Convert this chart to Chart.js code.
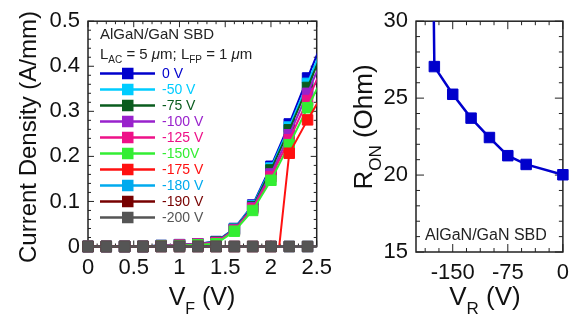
<!DOCTYPE html>
<html>
<head>
<meta charset="utf-8">
<script src="https://cdn.jsdelivr.net/npm/chart.js@4.4.1/dist/chart.umd.min.js"></script>
<style>
  html, body { margin: 0; padding: 0; background: #fff; }
  #wrap { position: relative; width: 577px; height: 322px; overflow: hidden; }
  canvas { position: absolute; top: 0; }
  #ivChart { left: 0; }
  #ronChart { left: 340px; }
</style>
</head>
<body>
<div id="wrap">
  <canvas id="ivChart" width="340" height="322"></canvas>
  <canvas id="ronChart" width="237" height="322"></canvas>
</div>
<script>
// forward sweep V_F (V); last point lies past the axis and only shows as the rising line
const vF = [0, 0.2, 0.4, 0.6, 0.8, 1.0, 1.2, 1.4, 1.6, 1.8, 2.0, 2.2, 2.4, 2.6];
// -175 V turns on late, so it has an extra knee point
const vF175 = [0, 0.2, 0.4, 0.6, 0.8, 1.0, 1.2, 1.4, 1.6, 1.8, 2.0, 2.09, 2.2, 2.4, 2.6];

// current density (A/mm) after each reverse stress
const j0    = [0, 0, 0, 0, 0.002, 0.004, 0.006, 0.011, 0.040, 0.092, 0.178, 0.272, 0.374, 0.474];
const j50   = [0, 0, 0, 0, 0.002, 0.004, 0.006, 0.010, 0.039, 0.090, 0.174, 0.265, 0.362, 0.462];
const j75   = [0, 0, 0, 0, 0.002, 0.004, 0.006, 0.010, 0.038, 0.088, 0.170, 0.259, 0.353, 0.450];
const j100  = [0, 0, 0, 0, 0.002, 0.004, 0.006, 0.009, 0.037, 0.086, 0.161, 0.248, 0.340, 0.435];
const j125  = [0, 0, 0, 0, 0.001, 0.003, 0.005, 0.008, 0.036, 0.084, 0.155, 0.237, 0.324, 0.415];
const j150  = [0, 0, 0, 0, 0.001, 0.002, 0.004, 0.006, 0.034, 0.080, 0.147, 0.226, 0.308, 0.390];
const j175  = [0, 0, 0, 0, 0, 0, 0, 0, 0, 0, 0, 0, 0.207, 0.281, 0.350];
const j180  = [0, 0, 0, 0, 0, 0, 0, 0, 0, 0, 0, 0, 0, 0];
const j190  = [0, 0, 0, 0, 0, 0, 0, 0, 0, 0, 0, 0, 0, 0];
const j200  = [0, 0, 0, 0, 0, 0, 0, 0, 0, 0, 0, 0, 0, 0];

const stressLabels = ["0 V", "-50 V", "-75 V", "-100 V", "-125 V", "-150V", "-175 V", "-180 V", "-190 V", "-200 V"];
const stressX = [vF, vF, vF, vF, vF, vF, vF175, vF, vF, vF];
const stressY = [j0, j50, j75, j100, j125, j150, j175, j180, j190, j200];
const stressColors = ["#0000cc", "#00ccff", "#0a5c1e", "#9922cc", "#ee1188", "#33ee33", "#ff1111", "#00aaee", "#770000", "#555555"];

// on-resistance vs reverse stress; -180 V point is off the top (device no longer conducts)
const vR  = [-180, -175, -150, -125, -100, -75, -50, 0];
const rOn = [48, 27.05, 25.25, 23.7, 22.44, 21.26, 20.69, 20.02];

const ivXTicks = [0, 0.5, 1, 1.5, 2, 2.5];
const ivYTicks = [0, 0.1, 0.2, 0.3, 0.4, 0.5];
const ronXTicks = [-150, -75, 0];
const ronYTicks = [15, 20, 25, 30];

const FONT = "'Liberation Sans', Arial, Helvetica, sans-serif";
Chart.defaults.font.family = FONT;
Chart.defaults.color = "#111";
Chart.defaults.animation = false;

// draws a run of text pieces (normal / subscript / italic) starting at x
function richText(ctx, parts, x, y, align) {
    const widths = parts.map((p) => {
        ctx.font = (p.italic ? "italic " : "") + p.size + "px " + FONT;
        return ctx.measureText(p.t).width;
    });
    const total = widths.reduce((a, b) => a + b, 0);
    let cx = align === "center" ? x - total / 2 : x;
    ctx.textAlign = "left";
    ctx.textBaseline = "alphabetic";
    parts.forEach((p, i) => {
        ctx.font = (p.italic ? "italic " : "") + p.size + "px " + FONT;
        ctx.fillText(p.t, cx, y + (p.dy || 0));
        cx += widths[i];
    });
}

// closed frame with inward ticks on all four sides
const frameTicks = {
    id: "frameTicks",
    beforeDatasetsDraw(chart, args, o) {
        const { ctx, chartArea: a, scales } = chart;
        ctx.save();
        ctx.strokeStyle = "#222";
        ctx.lineWidth = 1;
        ctx.beginPath();
        const run = (scale, anchor, minor, major, cb) => {
            const k0 = Math.ceil((scale.min - anchor) / minor - 1e-6);
            const k1 = Math.floor((scale.max - anchor) / minor + 1e-6);
            for (let k = k0; k <= k1; k++) {
                const v = anchor + k * minor;
                const r = (v - anchor) / major;
                const isMajor = Math.abs(r - Math.round(r)) < 1e-6;
                cb(scale.getPixelForValue(v), isMajor ? o.major : o.minor);
            }
        };
        run(scales.x, o.xAnchor, o.xMinor, o.xMajor, (px, len) => {
            ctx.moveTo(px, a.bottom); ctx.lineTo(px, a.bottom - len);
            ctx.moveTo(px, a.top); ctx.lineTo(px, a.top + len);
        });
        run(scales.y, o.yAnchor, o.yMinor, o.yMajor, (py, len) => {
            ctx.moveTo(a.left, py); ctx.lineTo(a.left + len, py);
            ctx.moveTo(a.right, py); ctx.lineTo(a.right - len, py);
        });
        ctx.stroke();
        ctx.lineWidth = 1.5;
        ctx.strokeRect(a.left, a.top, a.right - a.left, a.bottom - a.top);
        ctx.restore();
    },
};

function axisOpts(min, max, tickVals, size) {
    return {
        type: "linear",
        min: min,
        max: max,
        afterBuildTicks: (s) => { s.ticks = tickVals.map((v) => ({ value: v })); },
        grid: { display: false, drawTicks: false },
        border: { display: false },
        ticks: { font: { size: 22 }, padding: 8, autoSkip: false, maxRotation: 0, callback: (v) => String(v) },
        afterFit: (s) => {
            if (s.isHorizontal()) s.height = size; else s.width = size;
        },
    };
}

// ---- left: current density vs forward voltage
new Chart(document.getElementById("ivChart").getContext("2d"), {
    type: "line",
    data: {
        datasets: stressLabels.map((lab, i) => ({
            label: lab,
            data: stressX[i].map((v, k) => ({ x: v, y: stressY[i][k] })),
            borderColor: stressColors[i],
            backgroundColor: stressColors[i],
            borderWidth: 2,
            tension: 0,
            pointStyle: "rect",
            pointRadius: (c) => (c.raw && c.raw.x === 2.09 ? 0 : 7.4),
            pointBorderWidth: 1,
            order: stressLabels.length - i,
            clip: { left: 8, top: 0, right: 0, bottom: 8 },
        })),
    },
    options: {
        responsive: false,
        layout: { padding: { left: 0, right: 17, top: 15, bottom: 0 } },
        scales: {
            x: axisOpts(0, 2.5, ivXTicks, 75.5),
            y: axisOpts(0, 0.5, ivYTicks, 88),
        },
        plugins: {
            legend: { display: false },
            tooltip: { enabled: false },
            frameTicks: { xAnchor: 0, xMinor: 0.1, xMajor: 0.5, yAnchor: 0, yMinor: 0.02, yMajor: 0.1, major: 6, minor: 3 },
        },
    },
    plugins: [frameTicks, {
        id: "ivText",
        afterDraw(chart) {
            const ctx = chart.ctx;
            ctx.save();
            ctx.fillStyle = "#111";
            richText(ctx, [{ t: "V", size: 25 }, { t: "F", size: 16, dy: 9 }, { t: " (V)", size: 25 }], 202, 305, "center");
            ctx.translate(36, 137);
            ctx.rotate(-Math.PI / 2);
            richText(ctx, [{ t: "Current Density (A/mm)", size: 24 }], 0, 0, "center");
            ctx.restore();

            ctx.save();
            ctx.fillStyle = "#222";
            richText(ctx, [{ t: "AlGaN/GaN SBD", size: 15 }], 100, 39);
            richText(ctx, [
                { t: "L", size: 15 }, { t: "AC", size: 10, dy: 4 }, { t: " = 5 ", size: 15 },
                { t: "\u03bc", size: 15, italic: true }, { t: "m; L", size: 15 },
                { t: "FP", size: 10, dy: 4 }, { t: " = 1 ", size: 15 },
                { t: "\u03bc", size: 15, italic: true }, { t: "m", size: 15 },
            ], 100, 59);

            // legend: line with square marker, coloured label
            chart.data.datasets.forEach((ds, i) => {
                const y = 73.5 + i * 16;
                ctx.strokeStyle = ds.borderColor;
                ctx.fillStyle = ds.borderColor;
                ctx.lineWidth = 2.5;
                ctx.beginPath();
                ctx.moveTo(100, y);
                ctx.lineTo(155, y);
                ctx.stroke();
                ctx.fillRect(122, y - 5.75, 11.5, 11.5);
                ctx.font = "14px " + FONT;
                ctx.textAlign = "left";
                ctx.textBaseline = "middle";
                ctx.fillText(ds.label, 162, y + 1);
            });
            ctx.restore();
        },
    }],
});

// ---- right: on-resistance vs reverse stress voltage
new Chart(document.getElementById("ronChart").getContext("2d"), {
    type: "line",
    data: {
        datasets: [{
            label: "RON",
            data: vR.map((v, k) => ({ x: v, y: rOn[k] })),
            borderColor: "#0000cc",
            backgroundColor: "#0000cc",
            borderWidth: 2.5,
            tension: 0,
            pointStyle: "rect",
            pointRadius: 7.4,
            pointBorderWidth: 1,
            clip: { left: 8, top: 0, right: 8, bottom: 8 },
        }],
    },
    options: {
        responsive: false,
        layout: { padding: { left: 0, right: 11.5, top: 14, bottom: 0 } },
        scales: {
            x: axisOpts(-200, 0, ronXTicks, 70),
            y: axisOpts(15, 30, ronYTicks, 76),
        },
        plugins: {
            legend: { display: false },
            tooltip: { enabled: false },
            frameTicks: { xAnchor: 0, xMinor: 18.75, xMajor: 75, yAnchor: 15, yMinor: 1, yMajor: 5, major: 8, minor: 4 },
        },
    },
    plugins: [frameTicks, {
        id: "ronText",
        afterDraw(chart) {
            const ctx = chart.ctx;
            ctx.save();
            ctx.fillStyle = "#111";
            richText(ctx, [{ t: "V", size: 26 }, { t: "R", size: 17, dy: 9 }, { t: " (V)", size: 26 }], 145, 305, "center");
            ctx.translate(32, 127);
            ctx.rotate(-Math.PI / 2);
            richText(ctx, [{ t: "R", size: 26 }, { t: "ON", size: 17, dy: 9 }, { t: " (Ohm)", size: 26 }], 0, 0, "center");
            ctx.restore();
            ctx.save();
            ctx.fillStyle = "#222";
            richText(ctx, [{ t: "AlGaN/GaN SBD", size: 16 }], 85, 240);
            ctx.restore();
        },
    }],
});
</script>
</body>
</html>
